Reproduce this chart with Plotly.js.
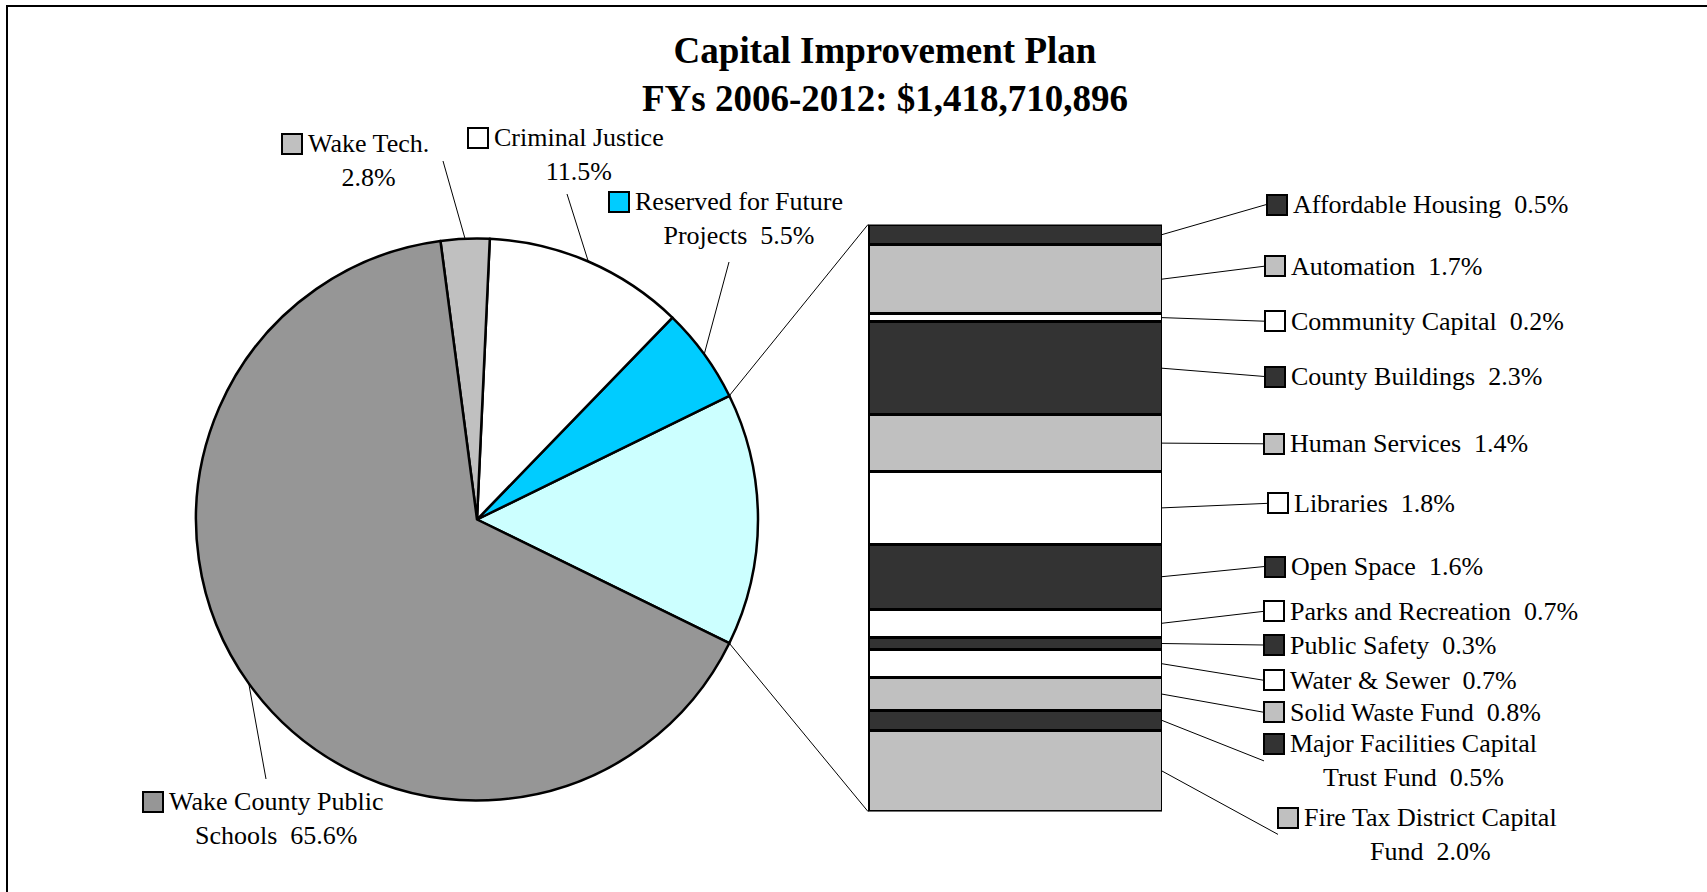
<!DOCTYPE html>
<html>
<head>
<meta charset="utf-8">
<script src="https://cdn.plot.ly/plotly-3.0.1.min.js"></script>
<style>
  html, body { margin: 0; padding: 0; background: #ffffff; }
  #chart { width: 1707px; height: 892px; }
</style>
</head>
<body>
<div id="chart"></div>
<script>
// ---------------- data ----------------
const titleLines = ['Capital Improvement Plan', 'FYs 2006-2012: $1,418,710,896'];

// pie slices, counter-clockwise from the "other" slice
const pieCategories = ['Reserved for Future Projects', 'Criminal Justice', 'Wake Tech.', 'Wake County Public Schools'];
const pieShares = [5.5, 11.5, 2.8, 65.6];

// breakdown of the "other" slice, top to bottom
const barCategories = [
  'Affordable Housing', 'Automation', 'Community Capital', 'County Buildings',
  'Human Services', 'Libraries', 'Open Space', 'Parks and Recreation',
  'Public Safety', 'Water & Sewer', 'Solid Waste Fund',
  'Major Facilities Capital Trust Fund', 'Fire Tax District Capital Fund'
];
const barShares = [0.5, 1.7, 0.2, 2.3, 1.4, 1.8, 1.6, 0.7, 0.3, 0.7, 0.8, 0.5, 2.0];

// ---------------- styles ----------------
const pieColors = ['#00CCFF', '#FFFFFF', '#C0C0C0', '#969696'];
const otherColor = '#CCFFFF';
const barColors = ['#333333', '#C0C0C0', '#FFFFFF', '#333333', '#C0C0C0', '#FFFFFF',
                   '#333333', '#FFFFFF', '#333333', '#FFFFFF', '#C0C0C0', '#333333', '#C0C0C0'];
// words kept on the first label line (0 = single line label)
const pieWrap = [3, 2, 2, 3];
const barWrap = [0, 0, 0, 0, 0, 0, 0, 0, 0, 0, 0, 3, 4];

// ---------------- layout geometry (pixels) ----------------
const W = 1707, H = 892;
const FONT = 'Liberation Serif, Times New Roman, serif';
const labelSize = 26;
const lineH = labelSize * 1.3;
const pieBox = { cx: 477, cy: 519.5, r: 281 };
const barBox = { left: 868, right: 1162, top: 224.5, bottom: 811.5 };
const pieLabelPos = [
  { mx: 619, my: 201.7, lx: 729, ly: 262 },
  { mx: 478, my: 137.7, lx: 567, ly: 194 },
  { mx: 291.5, my: 144, lx: 443, ly: 161 },
  { mx: 153, my: 802, lx: 266, ly: 779 }
];
const barLabelX = [1276.5, 1274.5, 1274.5, 1274.5, 1273.5, 1278.4, 1274.5, 1274, 1274, 1274, 1274, 1274, 1288];
const barLabelY = [204.5, 266.2, 321.2, 376.5, 443.8, 503.3, 566.5, 611.3, 645, 680.3, 712.3, 744, 817.5];

// ---------------- derived ----------------
const otherTotal = barShares.reduce((a, b) => a + b, 0);
const total = otherTotal + pieShares.reduce((a, b) => a + b, 0);
const otherDeg = otherTotal / total * 360;
const rad = d => d * Math.PI / 180;

function labelText(cat, share, wrapWords) {
  const pct = share.toFixed(1) + '%';
  if (!wrapWords) return cat + ' \u00A0' + pct;
  const words = cat.split(' ');
  const first = words.slice(0, wrapWords).join(' ');
  const rest = words.slice(wrapWords).join(' ');
  return first + '<br>' + (rest ? rest + ' \u00A0' : '') + pct;
}
const nLines = w => (w ? 2 : 1);

const traces = [];
traces.push({
  type: 'pie',
  labels: ['Other'].concat(pieCategories),
  values: [otherTotal].concat(pieShares),
  marker: { colors: [otherColor].concat(pieColors), line: { color: '#000000', width: 2.5 } },
  sort: false,
  direction: 'counterclockwise',
  rotation: 90 - otherDeg / 2,
  textinfo: 'none',
  hoverinfo: 'label+percent',
  showlegend: false,
  domain: {
    x: [(pieBox.cx - pieBox.r) / W, (pieBox.cx + pieBox.r) / W],
    y: [1 - (pieBox.cy + pieBox.r) / H, 1 - (pieBox.cy - pieBox.r) / H]
  }
});

barCategories.forEach((c, i) => {
  traces.push({
    type: 'bar',
    x: [0],
    y: [barShares[i]],
    width: [1],
    name: c,
    marker: { color: barColors[i], line: { color: '#000000', width: 3 } },
    xaxis: 'x', yaxis: 'y',
    showlegend: false,
    hoverinfo: 'name+y'
  });
});

const annotations = [];
const leaderBase = {
  showarrow: true, arrowhead: 0, arrowwidth: 1, arrowcolor: '#000000', standoff: 0,
  text: ' ', font: { size: 1 }, borderpad: 0, borderwidth: 0
};
function addMarker(mx, my, color) {
  annotations.push({
    xref: 'paper', yref: 'paper', x: mx / W, y: 1 - my / H,
    xanchor: 'center', yanchor: 'middle', showarrow: false,
    text: ' ', font: { size: 2 }, width: 18, height: 18,
    bgcolor: color, bordercolor: '#000000', borderwidth: 2, borderpad: 0
  });
}
function addText(mx, my, txt, lines) {
  annotations.push({
    xref: 'paper', yref: 'paper', x: (mx + 15) / W, y: 1 - (my + (lines - 1) * lineH / 2) / H,
    xanchor: 'left', yanchor: 'middle', align: 'center', showarrow: false,
    text: txt, font: { family: FONT, size: labelSize, color: '#000000' }, borderpad: 0
  });
}

// pie labels
let start = otherDeg / 2;
pieCategories.forEach((c, i) => {
  const a = pieShares[i] / total * 360;
  const mid = start + a / 2;
  start += a;
  const hx = pieBox.cx + pieBox.r * Math.cos(rad(mid));
  const hy = pieBox.cy - pieBox.r * Math.sin(rad(mid));
  const p = pieLabelPos[i];
  annotations.push(Object.assign({}, leaderBase, {
    xref: 'paper', yref: 'paper', x: hx / W, y: 1 - hy / H,
    ax: p.lx - hx, ay: p.ly - hy
  }));
  addMarker(p.mx, p.my, pieColors[i]);
  addText(p.mx, p.my, labelText(c, pieShares[i], pieWrap[i]), nLines(pieWrap[i]));
});

// bar labels
let cum = 0;
barCategories.forEach((c, i) => {
  const center = cum + barShares[i] / 2;
  cum += barShares[i];
  const hx = barBox.right;
  const hy = barBox.top + center / otherTotal * (barBox.bottom - barBox.top);
  const mx = barLabelX[i], my = barLabelY[i];
  const lines = nLines(barWrap[i]);
  const lx = mx - 10;
  const ly = my + (lines - 1) * lineH / 2;
  annotations.push(Object.assign({}, leaderBase, {
    xref: 'x', yref: 'y', x: 0.5, y: center,
    ax: lx - hx, ay: ly - hy
  }));
  addMarker(mx, my, barColors[i]);
  addText(mx, my, labelText(c, barShares[i], barWrap[i]), lines);
});

// connectors from the "other" slice to the bar
[[0, 1], [otherTotal, -1]].forEach(([yv, s]) => {
  const tx = pieBox.cx + pieBox.r * Math.cos(rad(otherDeg / 2));
  const ty = pieBox.cy - s * pieBox.r * Math.sin(rad(otherDeg / 2));
  const hx = barBox.left;
  const hy = s > 0 ? barBox.top : barBox.bottom;
  annotations.push(Object.assign({}, leaderBase, {
    xref: 'x', yref: 'y', x: -0.5, y: yv,
    ax: tx - hx, ay: ty - hy
  }));
});

const layout = {
  width: W, height: H, autosize: false,
  margin: { l: 0, r: 0, t: 0, b: 0, pad: 0 },
  paper_bgcolor: '#ffffff', plot_bgcolor: 'rgba(0,0,0,0)',
  showlegend: false,
  barmode: 'stack', bargap: 0,
  title: {
    text: titleLines.map(t => '<b>' + t + '</b>').join('<br>'),
    font: { family: FONT, size: 37, color: '#000000' },
    x: 885 / W, xanchor: 'center', xref: 'paper',
    y: 1 - 63 / H, yanchor: 'middle', yref: 'container'
  },
  xaxis: { domain: [barBox.left / W, barBox.right / W], range: [-0.5, 0.5], visible: false, fixedrange: true },
  yaxis: { domain: [1 - barBox.bottom / H, 1 - barBox.top / H], range: [otherTotal, 0], visible: false, fixedrange: true },
  annotations: annotations,
  shapes: [{
    type: 'path', xref: 'paper', yref: 'paper',
    path: `M ${7 / W},-0.05 L ${7 / W},${1 - 6 / H} L 1.05,${1 - 6 / H}`,
    line: { color: '#000000', width: 2 }
  }]
};

Plotly.newPlot('chart', traces, layout, { staticPlot: true, displayModeBar: false });
</script>
</body>
</html>
